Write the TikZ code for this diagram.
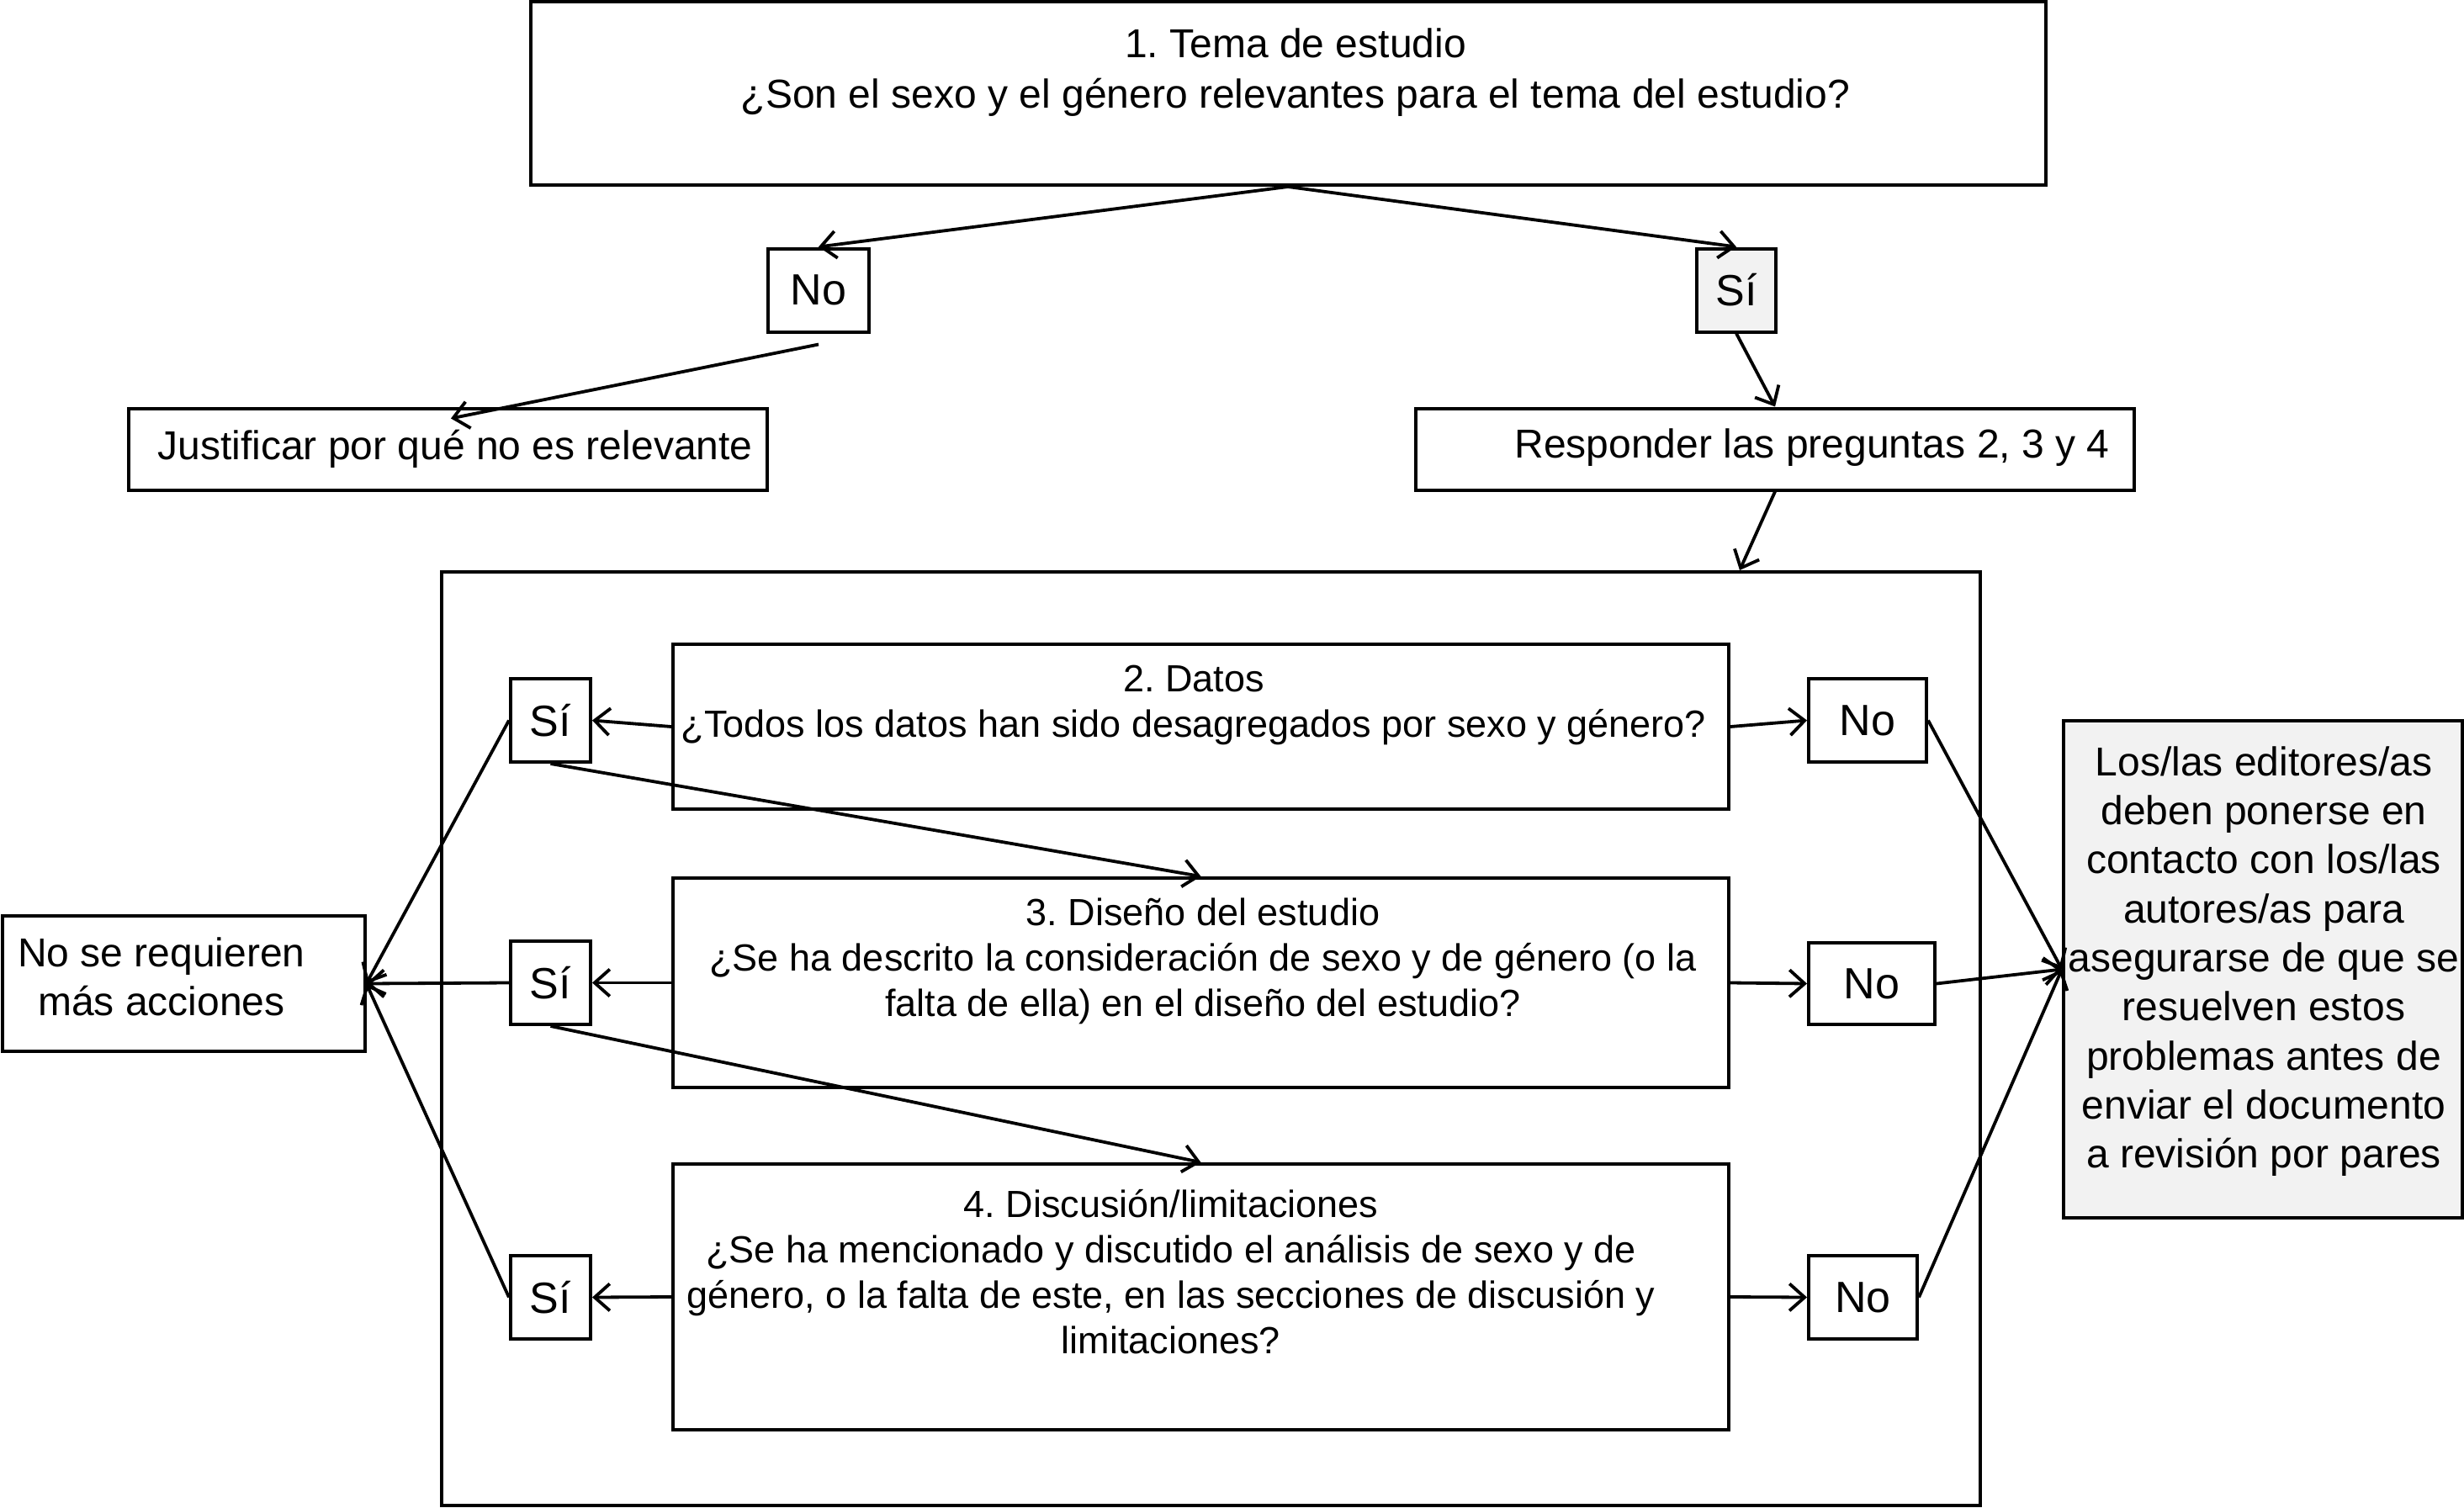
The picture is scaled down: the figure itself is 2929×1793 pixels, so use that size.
\documentclass[tikz,border=0pt]{standalone}
\usepackage{fontspec}
\setmainfont{Liberation Sans}
\usetikzlibrary{arrows.meta}
\definecolor{boxgray}{HTML}{F2F2F2}
\frenchspacing
\begin{document}
\begin{tikzpicture}[x=1pt,y=-1pt,
  box/.style={draw, line width=4pt, inner sep=0pt, rectangle},
  txt/.style={align=center, inner sep=0pt, font=\fontsize{48}{58}\selectfont},
  qtxt/.style={align=center, inner sep=0pt, font=\fontsize{45}{54}\selectfont},
  yn/.style={box, font=\fontsize{52}{60}\selectfont, minimum height=99pt},
  arr/.style={line width=3.8pt, -{Straight Barb[length=18pt,width=32pt,line width=3.8pt]}},
]
\useasboundingbox (0,0) rectangle (2929,1793);

% top
\node[box, minimum width=1801pt, minimum height=218pt] (top) at (1531,111) {};
\node[txt, font=\fontsize{48}{60}\selectfont] (toptxt) at (1540,86) {1. Tema de estudio\\ ¿Son el sexo y el género relevantes para el tema del estudio?};
\node[yn, minimum width=120pt] (noA) at (973,345) {No};
\node[yn, minimum width=94pt, fill=boxgray] (siA) at (2064,345) {Sí};
\node[box, txt, minimum width=759pt, minimum height=97pt] (just) at (532,534) {\hspace*{18pt}Justificar por qué no es relevante};
\node[box, minimum width=854pt, minimum height=97pt] (resp) at (2110,534) {};
\node[txt] (resptxt) at (2154,532) {Responder las preguntas 2, 3 y 4};

% container
\node[box, minimum width=1829pt, minimum height=1110pt] (cont) at (1439.5,1235) {};

% questions
\node[box, minimum width=1255pt, minimum height=196pt] (q2) at (1427.5,864) {};
\node[qtxt] (q2txt) at (1419,838) {2. Datos\\ ¿Todos los datos han sido desagregados por sexo y género?};
\node[box, minimum width=1255pt, minimum height=249pt] (q3) at (1427.5,1168.5) {};
\node[qtxt] (q3txt) at (1430,1143) {3. Diseño del estudio\\ ¿Se ha descrito la consideración de sexo y de género (o la\\ falta de ella) en el diseño del estudio?};
\node[box, minimum width=1255pt, minimum height=316pt] (q4) at (1427.5,1542) {};
\node[qtxt] (q4txt) at (1392,1512) {4. Discusión/limitaciones\\ ¿Se ha mencionado y discutido el análisis de sexo y de\\ género, o la falta de este, en las secciones de discusión y\\ limitaciones?};

% yes / no
\node[yn, minimum width=95pt] (si1) at (654.5,856.5) {Sí};
\node[yn, minimum width=95pt] (si2) at (654.5,1168.5) {Sí};
\node[yn, minimum width=95pt] (si3) at (654.5,1542.5) {Sí};
\node[yn, minimum width=140pt] (no1) at (2220,856.5) {No};
\node[yn, minimum width=150pt, minimum height=97pt] (no2) at (2225,1169.5) {No};
\node[yn, minimum width=129pt] (no3) at (2214.5,1542.5) {No};

% outcomes
\node[box, minimum width=431pt, minimum height=161pt] (noreq) at (218,1169.5) {};
\node[txt] (noreqtxt) at (192,1161) {No se requieren\\ más acciones};
\node[box, fill=boxgray, minimum width=474pt, minimum height=591pt] (ed) at (2690,1152.5) {};
\node[txt, font=\fontsize{48}{58.3}\selectfont] (edtxt) at (2691,1143) {Los/las editores/as\\ deben ponerse en\\ contacto con los/las\\ autores/as para\\ asegurarse de que se\\ resuelven estos\\ problemas antes de\\ enviar el documento\\ a revisión por pares};

% connectors
\draw[arr] (top.south) -- (noA.north);
\draw[arr] (top.south) -- (siA.north);
\draw[arr] ([yshift=-13pt]noA.south) -- ([xshift=4pt,yshift=-14pt]just.north);
\draw[arr] (siA.south) -- (resp.north);
\draw[arr] (resp.south) -- ([xshift=-288pt]cont.north east);

\draw[arr] (q2.west) -- (si1.east);
\draw[arr] (q2.east) -- (no1.west);
\draw[arr] (si1.south) -- (q3.north);
\draw[arr] (q3.west) -- (si2.east);
\draw[arr] (q3.east) -- (no2.west);
\draw[arr] (si2.south) -- (q4.north);
\draw[arr] (q4.west) -- (si3.east);
\draw[arr] (q4.east) -- (no3.west);

\draw[arr] (si1.west) -- (noreq.east);
\draw[arr] (si2.west) -- (noreq.east);
\draw[arr] (si3.west) -- (noreq.east);
\draw[arr] (no1.east) -- (ed.west);
\draw[arr] (no2.east) -- (ed.west);
\draw[arr] (no3.east) -- (ed.west);
\end{tikzpicture}
\end{document}
